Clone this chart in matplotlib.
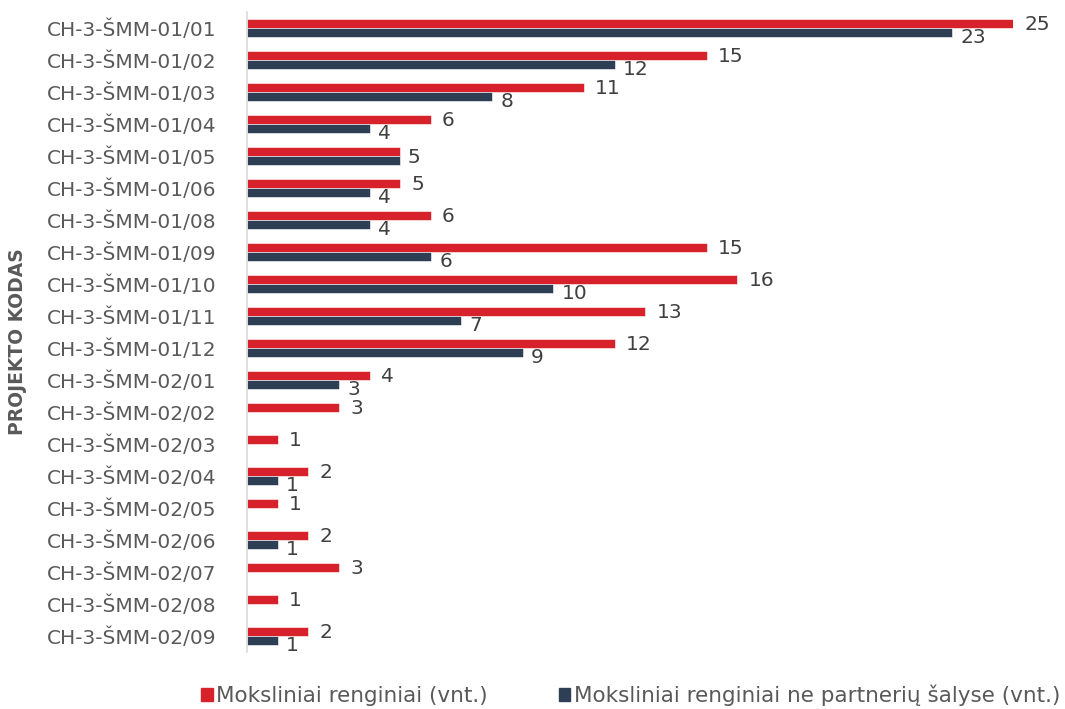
import matplotlib.pyplot as plt
from matplotlib.patches import Patch

codes = ["CH-3-ŠMM-01/01", "CH-3-ŠMM-01/02", "CH-3-ŠMM-01/03", "CH-3-ŠMM-01/04",
         "CH-3-ŠMM-01/05", "CH-3-ŠMM-01/06", "CH-3-ŠMM-01/08", "CH-3-ŠMM-01/09",
         "CH-3-ŠMM-01/10", "CH-3-ŠMM-01/11", "CH-3-ŠMM-01/12", "CH-3-ŠMM-02/01",
         "CH-3-ŠMM-02/02", "CH-3-ŠMM-02/03", "CH-3-ŠMM-02/04", "CH-3-ŠMM-02/05",
         "CH-3-ŠMM-02/06", "CH-3-ŠMM-02/07", "CH-3-ŠMM-02/08", "CH-3-ŠMM-02/09"]
renginiai = [25, 15, 11, 6, 5, 5, 6, 15, 16, 13, 12, 4, 3, 1, 2, 1, 2, 3, 1, 2]
ne_partneriu = [23, 12, 8, 4, 5, 4, 4, 6, 10, 7, 9, 3, 0, 0, 1, 0, 1, 0, 0, 1]
series_names = ["Moksliniai renginiai (vnt.)",
                "Moksliniai renginiai ne partnerių šalyse (vnt.)"]

red = "#D7222B"
navy = "#2E3E55"
grey = "#595959"
dark = "#404040"

fig = plt.figure(figsize=(10.65, 7.09), dpi=100)
ax = fig.add_axes([247 / 1065, 1 - 652 / 709, (1013 - 247) / 1065, 640 / 709])

pos = list(range(len(codes)))
h = 0.28
ax.barh([p - h / 2 for p in pos], renginiai, height=h, color=red,
        edgecolor="white", linewidth=0.4)
ax.barh([p + h / 2 for p in pos], ne_partneriu, height=h, color=navy,
        edgecolor="white", linewidth=0.4)

# value labels (one shared label where both values are equal)
for p, r, n in zip(pos, renginiai, ne_partneriu):
    if r == n:
        ax.annotate(str(r), (r, p), xytext=(5, -1), textcoords="offset points",
                    ha="left", va="center", fontsize=14.5, color=dark)
        continue
    if r:
        ax.annotate(str(r), (r, p - h / 2), xytext=(8, -1), textcoords="offset points",
                    ha="left", va="center", fontsize=14.5, color=dark)
    if n:
        ax.annotate(str(n), (n, p + h / 2), xytext=(6, -3.5), textcoords="offset points",
                    ha="left", va="center", fontsize=14.5, color=dark)

ax.set_xlim(0, 25)
ax.set_ylim(len(codes) - 0.5, -0.5)
ax.set_yticks(pos)
ax.set_yticklabels(codes, fontsize=14.5, color=grey)
ax.set_xticks([])
ax.tick_params(axis="y", length=0, pad=22)
for s in ["top", "right", "bottom"]:
    ax.spines[s].set_visible(False)
ax.spines["left"].set_color("#D9D9D9")
ax.spines["left"].set_linewidth(1.2)

fig.text(18 / 1065, 1 - 342 / 709, "PROJEKTO KODAS", rotation=90, ha="center",
         va="center", fontsize=13.5, fontweight="bold", color=grey)

handles = [Patch(color=red), Patch(color=navy)]
fig.legend(handles, series_names, loc="center", bbox_to_anchor=(0.592, 1 - 695 / 709),
           ncol=2, frameon=False, fontsize=15.5, labelcolor=grey,
           handlelength=0.55, handleheight=0.55, handletextpad=0.15, columnspacing=3.3)

fig.savefig("out.png", dpi=100)
